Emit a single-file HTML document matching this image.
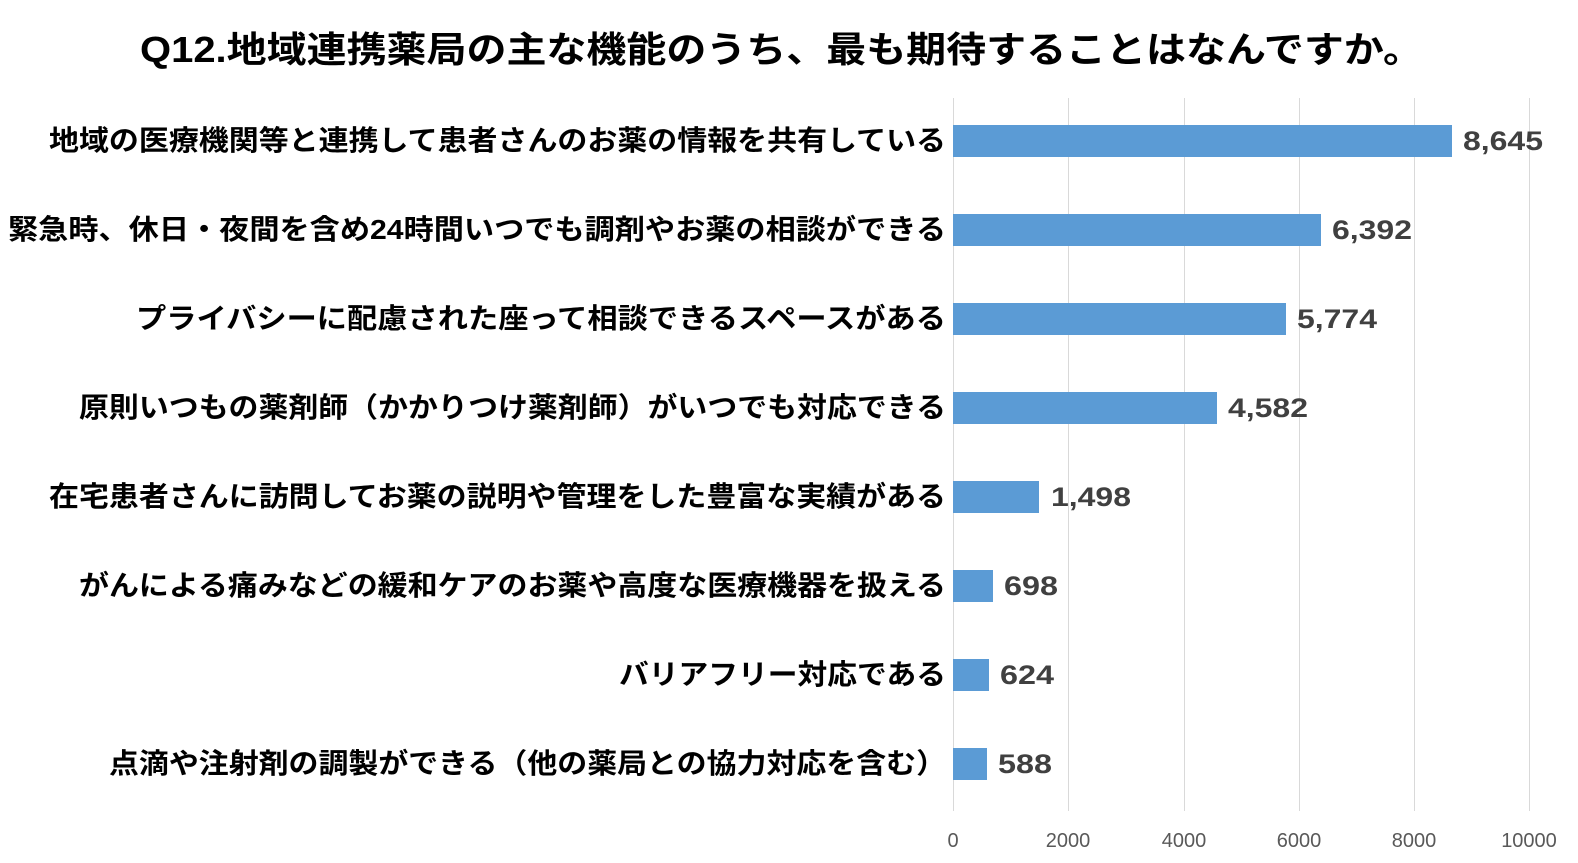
<!DOCTYPE html>
<html><head><meta charset="utf-8"><style>
body{margin:0;background:#fff;width:1578px;height:858px;overflow:hidden;font-family:"Liberation Sans","Noto Sans CJK JP",sans-serif}
</style></head><body>
<svg width="1578" height="858" xmlns="http://www.w3.org/2000/svg" style="font-family:'Liberation Sans','Noto Sans CJK JP',sans-serif">
<text x="140" y="62" font-size="36" font-weight="bold" fill="#000" textLength="1283" lengthAdjust="spacingAndGlyphs">Q12.地域連携薬局の主な機能のうち、最も期待することはなんですか。</text>
<g stroke="#d9d9d9" stroke-width="1">
<line x1="953.5" y1="98" x2="953.5" y2="811"/>
<line x1="1068.5" y1="98" x2="1068.5" y2="811"/>
<line x1="1184.5" y1="98" x2="1184.5" y2="811"/>
<line x1="1299.5" y1="98" x2="1299.5" y2="811"/>
<line x1="1414.5" y1="98" x2="1414.5" y2="811"/>
<line x1="1529.5" y1="98" x2="1529.5" y2="811"/>
</g>
<g font-size="20" fill="#595959" text-anchor="middle">
<text x="953" y="847">0</text><text x="1068" y="847">2000</text><text x="1184" y="847">4000</text><text x="1299" y="847">6000</text><text x="1414" y="847">8000</text><text x="1529" y="847">10000</text>
</g>
<g fill="#5b9bd5">
<rect x="953" y="125" width="499" height="32"/>
<rect x="953" y="214" width="368" height="32"/>
<rect x="953" y="303" width="333" height="32"/>
<rect x="953" y="392" width="264" height="32"/>
<rect x="953" y="481" width="86" height="32"/>
<rect x="953" y="570" width="40" height="32"/>
<rect x="953" y="659" width="36" height="32"/>
<rect x="953" y="748" width="34" height="32"/>
</g>
<g font-size="27" font-weight="bold" fill="#404040">
<text x="1463" y="150" textLength="80" lengthAdjust="spacingAndGlyphs">8,645</text>
<text x="1332" y="239" textLength="80" lengthAdjust="spacingAndGlyphs">6,392</text>
<text x="1297" y="328" textLength="80" lengthAdjust="spacingAndGlyphs">5,774</text>
<text x="1228" y="417" textLength="80" lengthAdjust="spacingAndGlyphs">4,582</text>
<text x="1051" y="506" textLength="80" lengthAdjust="spacingAndGlyphs">1,498</text>
<text x="1004" y="595" textLength="54" lengthAdjust="spacingAndGlyphs">698</text>
<text x="1000" y="684" textLength="54" lengthAdjust="spacingAndGlyphs">624</text>
<text x="998" y="773" textLength="54" lengthAdjust="spacingAndGlyphs">588</text>
</g>
<g font-size="28" font-weight="bold" fill="#000">
<text x="49" y="150" textLength="897" lengthAdjust="spacingAndGlyphs">地域の医療機関等と連携して患者さんのお薬の情報を共有している</text>
<text x="8" y="239" textLength="938" lengthAdjust="spacingAndGlyphs">緊急時、休日・夜間を含め24時間いつでも調剤やお薬の相談ができる</text>
<text x="136" y="328" textLength="810" lengthAdjust="spacingAndGlyphs">プライバシーに配慮された座って相談できるスペースがある</text>
<text x="79" y="417" textLength="867" lengthAdjust="spacingAndGlyphs">原則いつもの薬剤師（かかりつけ薬剤師）がいつでも対応できる</text>
<text x="49" y="506" textLength="897" lengthAdjust="spacingAndGlyphs">在宅患者さんに訪問してお薬の説明や管理をした豊富な実績がある</text>
<text x="79" y="595" textLength="867" lengthAdjust="spacingAndGlyphs">がんによる痛みなどの緩和ケアのお薬や高度な医療機器を扱える</text>
<text x="619" y="684" textLength="327" lengthAdjust="spacingAndGlyphs">バリアフリー対応である</text>
<text x="109" y="773" textLength="837" lengthAdjust="spacingAndGlyphs">点滴や注射剤の調製ができる（他の薬局との協力対応を含む）</text>
</g>
</svg>
</body></html>
